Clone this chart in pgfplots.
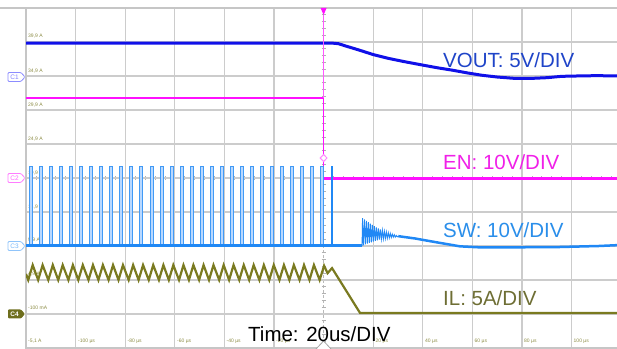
\documentclass[border=0pt]{standalone}
\usepackage{pgfplots}
\pgfplotsset{compat=1.18}
\usepackage{fontspec}
\setmainfont{Liberation Sans}
\definecolor{voutc}{HTML}{1010E8}
\definecolor{voutt}{HTML}{1F44C8}
\definecolor{enc}{HTML}{FF10FF}
\definecolor{ent}{HTML}{F020E8}
\definecolor{swc}{HTML}{2088F5}
\definecolor{swfill}{HTML}{B8D8FF}
\definecolor{swt}{HTML}{2A8EEA}
\definecolor{ilc}{HTML}{7A7A20}
\definecolor{ilt}{HTML}{6E6E34}
\definecolor{gridc}{HTML}{CCCCCC}
\definecolor{lblc}{HTML}{8C8C45}
\begin{document}
\begin{tikzpicture}
% ---------- decorations under the traces ----------
\begin{scope}[x=1bp,y=1bp]
\draw[gray!55, line width=1bp, dash pattern=on 3bp off 2bp] (323.6,1) -- (323.6,341);
\foreach \i in {0,...,60} \draw[gray!60, line width=0.7bp] ({26+\i*9.92},169) -- ({26+\i*9.92},173);
\foreach \j in {0,...,50} \draw[gray!60, line width=0.7bp] (321.6,{1+\j*6.8}) -- (325.6,{1+\j*6.8});
\draw[gray!45, line width=1.2bp] (0,341) -- (26,341);
\begin{scope}[font=\fontsize{5bp}{6bp}\selectfont, text=lblc, inner sep=0pt, anchor=west]
\node[anchor=west] at (28,312.5) {39,9 A};
\node[anchor=west] at (28,278) {34,9 A};
\node[anchor=west] at (28,244) {29,9 A};
\node[anchor=west] at (28,210) {24,9 A};
\node[anchor=west] at (28,176) {19,9 A};
\node[anchor=west] at (28,142) {14,9 A};
\node[anchor=west] at (28,109) {9,9 A};
\node[anchor=west] at (28,75) {4,9 A};
\node[anchor=west] at (28,41) {-100 mA};
\node[anchor=west] at (28,8) {-5,1 A};
\node[anchor=west] at (78,8) {-100 µs};
\node[anchor=west] at (127.5,8) {-80 µs};
\node[anchor=west] at (177,8) {-60 µs};
\node[anchor=west] at (226.5,8) {-40 µs};
\node[anchor=west] at (276,8) {-20 µs};
\node[anchor=west] at (375.5,8) {20 µs};
\node[anchor=west] at (425,8) {40 µs};
\node[anchor=west] at (474.5,8) {60 µs};
\node[anchor=west] at (524,8) {80 µs};
\node[anchor=west] at (573.5,8) {100 µs};
\end{scope}
\end{scope}
% ---------- axis ----------
\begin{axis}[at={(26bp,1bp)}, anchor=south west, scale only axis,
  width=595.2bp, height=340bp,
  xmin=-120, xmax=120, ymin=0, ymax=10,
  xtick={-100,-80,-60,-40,-20,20,40,60,80,100}, ytick={1,2,...,9},
  xticklabels={}, yticklabels={}, major tick length=0pt,
  grid=major, major grid style={draw=gridc, line width=1.2bp},
  axis line style={draw=gray!45, line width=1.2bp}]
% VOUT
\addplot[voutc, line width=3bp] coordinates {(-120,8.97) (3,8.97) (6,8.95) (9,8.88) (14,8.77) (20,8.63) (26,8.52) (32,8.43) (40,8.32) (46,8.24) (52,8.17) (58,8.09) (64,8.02) (70,7.97) (77,7.93) (84,7.93) (90,7.95) (96,7.99) (102,8.0) (110,8.01) (120,8.0)};
% EN
\addplot[enc, line width=2.5bp] coordinates {(-120,7.35) (0,7.35)};
\addplot[enc, line width=1bp] coordinates {(0,7.35) (0,4.99)};
\addplot[enc, line width=2.5bp] coordinates {(0,4.99) (120,4.99)};
% SW pulses
\addplot[fill=swfill, draw=swc!85, line width=0.9bp] coordinates {(-120,3)
(-118.6,3) (-118.6,5.35) (-117.4,5.35) (-117.4,3)
(-114.6,3) (-114.6,5.35) (-113.4,5.35) (-113.4,3)
(-110.5,3) (-110.5,5.35) (-109.3,5.35) (-109.3,3)
(-106.5,3) (-106.5,5.35) (-105.3,5.35) (-105.3,3)
(-102.4,3) (-102.4,5.35) (-101.2,5.35) (-101.2,3)
(-98.4,3) (-98.4,5.35) (-97.2,5.35) (-97.2,3)
(-94.3,3) (-94.3,5.35) (-93.1,5.35) (-93.1,3)
(-90.3,3) (-90.3,5.35) (-89.1,5.35) (-89.1,3)
(-86.2,3) (-86.2,5.35) (-85.0,5.35) (-85.0,3)
(-82.2,3) (-82.2,5.35) (-81.0,5.35) (-81.0,3)
(-78.1,3) (-78.1,5.35) (-76.9,5.35) (-76.9,3)
(-74.1,3) (-74.1,5.35) (-72.9,5.35) (-72.9,3)
(-70.0,3) (-70.0,5.35) (-68.8,5.35) (-68.8,3)
(-65.9,3) (-65.9,5.35) (-64.7,5.35) (-64.7,3)
(-61.9,3) (-61.9,5.35) (-60.7,5.35) (-60.7,3)
(-57.8,3) (-57.8,5.35) (-56.6,5.35) (-56.6,3)
(-53.8,3) (-53.8,5.35) (-52.6,5.35) (-52.6,3)
(-49.7,3) (-49.7,5.35) (-48.5,5.35) (-48.5,3)
(-45.7,3) (-45.7,5.35) (-44.5,5.35) (-44.5,3)
(-41.6,3) (-41.6,5.35) (-40.4,5.35) (-40.4,3)
(-37.6,3) (-37.6,5.35) (-36.4,5.35) (-36.4,3)
(-33.5,3) (-33.5,5.35) (-32.3,5.35) (-32.3,3)
(-29.5,3) (-29.5,5.35) (-28.3,5.35) (-28.3,3)
(-25.4,3) (-25.4,5.35) (-24.2,5.35) (-24.2,3)
(-21.4,3) (-21.4,5.35) (-20.2,5.35) (-20.2,3)
(-17.3,3) (-17.3,5.35) (-16.1,5.35) (-16.1,3)
(-13.3,3) (-13.3,5.35) (-12.1,5.35) (-12.1,3)
(-9.2,3) (-9.2,5.35) (-8.0,5.35) (-8.0,3)
(-5.2,3) (-5.2,5.35) (-4.0,5.35) (-4.0,3)
(-1.1,3) (-1.1,5.35) (0.1,5.35) (0.1,3)};
\addplot[swc, line width=3bp] coordinates {(-120,3) (15.5,3)};
\addplot[swc, line width=1.1bp] coordinates {(3.4,3) (3.4,5.35) (3.4,3)};
\addplot[swc, line width=0.9bp] coordinates {(15.5,3.0) (15.7,3.82) (16.1,3.02) (16.5,3.78) (16.9,3.05) (17.3,3.74) (17.7,3.07) (18.1,3.70) (18.5,3.09) (18.9,3.66) (19.3,3.11) (19.7,3.62) (20.1,3.13) (20.5,3.58) (20.9,3.15) (21.3,3.55) (21.7,3.17) (22.1,3.52) (22.5,3.19) (22.9,3.49) (23.3,3.20) (23.7,3.46) (24.1,3.21) (24.5,3.43) (24.9,3.22) (25.3,3.41) (25.7,3.23) (26.1,3.39) (26.5,3.24) (26.9,3.37) (27.3,3.25) (27.7,3.35) (28.1,3.26) (28.5,3.33) (28.9,3.26) (29.3,3.31) (29.7,3.27) (30.1,3.29)};
\addplot[swc, line width=2.5bp] coordinates {(30.1,3.29) (32,3.27) (37,3.22) (40,3.18) (47,3.09) (55,2.99) (63,2.96) (75,2.96) (95,2.97) (111,3.0) (120,3.03)};
% IL
\addplot[ilc, line width=2.2bp] coordinates {(-120,2.18) (-119.1,2.0) (-117.3,2.44) (-115.1,2.0) (-113.3,2.44) (-111.0,2.0) (-109.2,2.44) (-107.0,2.0) (-105.2,2.44) (-102.9,2.0) (-101.1,2.44) (-98.9,2.0) (-97.1,2.44) (-94.8,2.0) (-93.0,2.44) (-90.8,2.0) (-89.0,2.44) (-86.7,2.0) (-84.9,2.44) (-82.7,2.0) (-80.9,2.44) (-78.6,2.0) (-76.8,2.44) (-74.6,2.0) (-72.8,2.44) (-70.5,2.0) (-68.7,2.44) (-66.4,2.0) (-64.6,2.44) (-62.4,2.0) (-60.6,2.44) (-58.3,2.0) (-56.5,2.44) (-54.3,2.0) (-52.5,2.44) (-50.2,2.0) (-48.4,2.44) (-46.2,2.0) (-44.4,2.44) (-42.1,2.0) (-40.3,2.44) (-38.1,2.0) (-36.3,2.44) (-34.0,2.0) (-32.2,2.44) (-30.0,2.0) (-28.2,2.44) (-25.9,2.0) (-24.1,2.44) (-21.9,2.0) (-20.1,2.44) (-17.8,2.0) (-16.0,2.44) (-13.8,2.0) (-12.0,2.44) (-9.7,2.0) (-7.9,2.44) (-5.7,2.0) (-3.9,2.44) (-1.6,2.0) (0.2,2.42) (1.6,2.2) (3.4,2.35) (14.7,1.03) (120,1.03)};
\end{axis}
% ---------- overlays ----------
\begin{scope}[x=1bp,y=1bp]
\draw[enc!70, line width=1bp] (323.6,334) -- (323.6,251);
\fill[enc] (320.6,341) -- (326.6,341) -- (323.6,334) -- cycle;
\draw[enc!50, line width=1bp, fill=white] (323.6,194.5) -- (327,191) -- (323.6,187.5) -- (320.2,191) -- cycle;
\draw[gray!70, line width=0.8bp, fill=white] (316,0) -- (323.6,8) -- (331,0);
% channel markers
\draw[blue!45, line width=0.8bp, rounded corners=1bp] (8,267.5) -- (21,267.5) -- (25,272) -- (21,276.5) -- (8,276.5) -- cycle;
\node[text=blue!50, font=\fontsize{6.5bp}{7bp}\selectfont, inner sep=0pt] at (14.5,272) {C1};
\draw[enc!55, line width=0.8bp, rounded corners=1bp] (8,166.5) -- (21,166.5) -- (25,171) -- (21,175.5) -- (8,175.5) -- cycle;
\node[text=enc!65, font=\fontsize{6.5bp}{7bp}\selectfont, inner sep=0pt] at (14.5,171) {C2};
\draw[swc!50, line width=0.8bp, rounded corners=1bp] (8,98.5) -- (21,98.5) -- (25,103) -- (21,107.5) -- (8,107.5) -- cycle;
\node[text=swc!60, font=\fontsize{6.5bp}{7bp}\selectfont, inner sep=0pt] at (14.5,103) {C3};
\fill[ilc!90!black, rounded corners=1bp] (8,30.5) -- (21,30.5) -- (25,35) -- (21,39.5) -- (8,39.5) -- cycle;
\node[text=white, font=\bfseries\fontsize{6.5bp}{7bp}\selectfont, inner sep=0pt] at (14.5,35) {C4};
% labels
\begin{scope}[font=\fontsize{20.5bp}{24bp}\selectfont, inner sep=0pt]
\node[anchor=base west, text=voutt] at (443,282) {VOUT: 5V/DIV};
\node[anchor=base west, text=ent] at (443,179.5) {EN: 10V/DIV};
\node[anchor=base west, text=swt] at (443,111.5) {SW: 10V/DIV};
\node[anchor=base west, text=ilt] at (443,44) {IL: 5A/DIV};
\node[anchor=base west, text=black] at (248,8) {Time: 20us/DIV};
\end{scope}
\end{scope}
\pgfresetboundingbox
\useasboundingbox (0,0) rectangle (617bp,349bp);
\end{tikzpicture}
\end{document}
